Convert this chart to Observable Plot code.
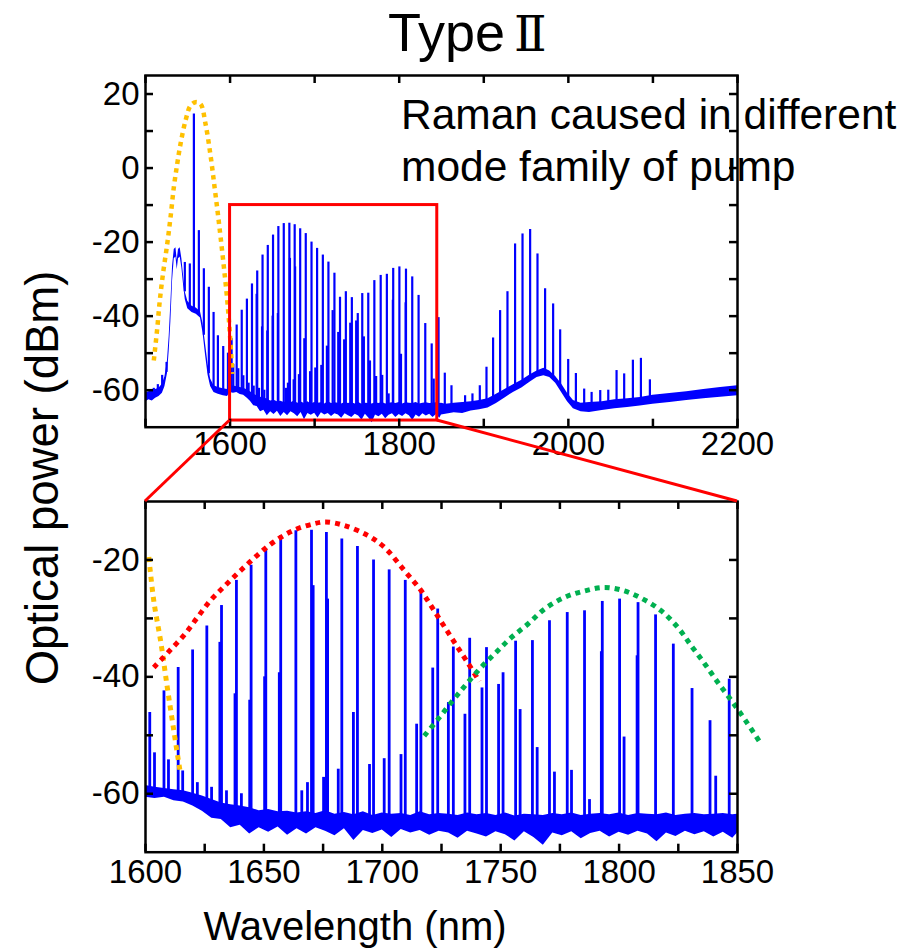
<!DOCTYPE html>
<html><head><meta charset="utf-8">
<script src="https://cdn.jsdelivr.net/npm/d3@7"></script>
<script src="https://cdn.jsdelivr.net/npm/@observablehq/plot@0.6"></script>
<style>
html,body{margin:0;padding:0;background:#fff;}
#wrap{position:relative;width:915px;height:950px;font-family:"Liberation Sans",Arial,sans-serif;background:#fff;}
#wrap svg{position:absolute;left:0;overflow:visible;}
</style></head><body><div id="wrap"></div>
<script>
// ---------------- DATA ----------------
// comb lines between 1600 and 1850 nm (shared by both panels): wavelength (nm), peak (dBm)
const combW = [1601.8,1603.8,1607.8,1609.7,1613.8,1615.7,1619.9,1621.9,1625.9,1627.9,1631.4,1632.1,1634.2,1637.8,1638.4,1640.5,1644.0,1644.6,1650.3,1650.8,1656.5,1657.1,1663.5,1666.0,1668.4,1670.1,1670.8,1675.2,1676.4,1676.9,1681.4,1682.9,1687.8,1689.5,1694.6,1696.3,1700.8,1702.9,1707.9,1709.7,1714.5,1716.3,1721.3,1723.4,1727.9,1730.0,1734.9,1736.9,1742.1,1744.0,1749.1,1751.0,1756.3,1758.2,1763.4,1765.4,1770.6,1772.7,1778.1,1779.9,1785.4,1787.5,1792.5,1792.9,1800.2,1802.1,1807.6,1808.0,1815.4,1822.9,1830.8,1838.4,1840.8,1846.5];
const combPeak = [-46.1,-53.0,-42.4,-54.2,-38.4,-56.1,-35.4,-58.1,-31.3,-58.9,-34.1,-27.8,-59.5,-42.9,-23.5,-60.0,-44.0,-20.9,-40.0,-18.1,-39.3,-15.8,-15.0,-59.5,-58.1,-14.9,-24.4,-57.2,-15.3,-26.7,-55.8,-16.4,-46.1,-17.7,-55.0,-20.0,-54.0,-21.7,-53.3,-23.5,-48.1,-25.4,-38.5,-28.4,-44.4,-34.9,-46.4,-33.4,-41.9,-35.0,-41.3,-39.3,-33.9,-45.6,-33.8,-52.1,-30.4,-56.3,-29.0,-56.0,-28.7,-61.0,-35.7,-27.1,-26.7,-50.3,-36.4,-27.3,-29.4,-34.4,-42.0,-47.5,-57.0,-40.4];

// lines around the pump (top panel only)
const pumpW = [1509.8,1514.6,1519.7,1524.9,1546.5,1552.4,1557.2,1563.1,1569.0,1574.9,1580.5,1585.6,1591.9,1597.5];
const pumpPeak = [-59.5,-58.5,-56.0,-52.5,-25.5,-25.9,14.6,-16.9,-27.2,-32.2,-39.0,-45.3,-48.2,-50.0];

// lines beyond 1850 nm (top panel only)
const longW = [1853.9,1861.8,1877.9,1886.6,1895.3,1903.2,1911.0,1919.3,1928.0,1937.0,1945.8,1954.8,1963.5,1972.5,1982.0,1990.3,1999.8,2008.9,2018.7,2027.5,2037.7,2047.2,2057.0,2066.0,2076.3,2085.8,2096.4];
const longPeak = [-55.4,-58.8,-61.5,-61.0,-58.8,-53.8,-45.9,-38.5,-33.4,-20.5,-17.8,-16.6,-23.2,-32.6,-36.7,-43.7,-51.7,-55.5,-59.7,-60.6,-60.1,-60.0,-54.7,-55.6,-51.9,-51.4,-57.2];

// noise floor (band low / high), 1600-1850 nm
const floorW  = [1600,1604,1608,1612,1616,1620,1624,1628,1632,1636,1640,1644,1648,1652,1656,1660,1664,1668,1672,1676,1680,1684,1688,1692,1696,1700,1704,1708,1712,1716,1720,1724,1728,1732,1736,1740,1744,1748,1752,1756,1760,1764,1768,1772,1776,1780,1784,1788,1792,1796,1800,1804,1808,1812,1816,1820,1824,1828,1832,1836,1840,1844,1848,1850];
const floorLo = [-60.6,-60.8,-60.6,-61.2,-61.4,-62.1,-63.0,-64.2,-64.4,-65.8,-65.4,-66.9,-65.8,-66.6,-65.7,-67.1,-66.0,-66.9,-65.8,-66.4,-67.2,-66.0,-68.0,-66.3,-66.8,-66.2,-67.5,-66.1,-66.7,-66.3,-67.1,-66.4,-66.7,-67.6,-66.4,-66.9,-67.4,-66.5,-67.0,-68.1,-66.5,-67.5,-68.8,-66.7,-67.2,-66.5,-67.7,-66.8,-66.4,-67.4,-66.6,-67.1,-66.4,-66.9,-68.2,-66.7,-67.3,-66.4,-67.0,-66.5,-67.4,-66.6,-67.6,-66.7];
const floorHi = [-58.6,-58.9,-59.1,-59.3,-59.5,-59.9,-60.4,-61.0,-61.6,-61.9,-62.1,-62.4,-62.9,-62.7,-63.1,-63.0,-63.3,-63.1,-63.4,-62.9,-63.5,-63.2,-63.6,-63.1,-63.7,-63.3,-63.5,-63.4,-63.7,-63.1,-63.6,-63.4,-63.5,-63.7,-63.3,-63.6,-63.4,-63.7,-63.3,-63.8,-63.5,-63.6,-63.7,-63.4,-63.6,-63.3,-63.7,-63.5,-63.4,-63.6,-63.3,-63.7,-63.4,-63.5,-63.6,-63.3,-63.7,-63.5,-63.4,-63.6,-63.5,-63.4,-63.6,-63.5];

// pump region floor / ASE hump (top panel), 1500-1597 nm
const pumpFloorW  = [1500,1504,1508,1512,1516,1520,1523,1526,1528,1530,1532,1534,1536,1537.5,1539,1541,1543,1545,1547,1550,1555,1560,1565,1568,1571,1574,1577,1581,1586,1592,1597];
const pumpFloorLo = [-63.2,-62.6,-62.9,-62.2,-61.7,-60.8,-59.0,-55.5,-49.5,-41.5,-30.5,-24.5,-24.0,-27.5,-24.5,-24.0,-27.0,-31.5,-35.5,-38.0,-39.0,-39.5,-40.5,-44.5,-50.5,-56.0,-59.0,-60.6,-61.1,-61.5,-61.7];
const pumpFloorHi = [-60.7,-60.4,-60.2,-59.8,-59.5,-58.3,-56.4,-52.0,-45.5,-36.5,-26.5,-22.0,-21.5,-25.0,-22.0,-21.5,-24.5,-29.0,-33.5,-36.0,-37.3,-37.8,-38.8,-42.0,-47.5,-53.0,-57.0,-58.8,-59.3,-59.6,-59.8];

// long-wavelength floor (top panel), 1855-2200 nm
const longFloorW  = [1855,1865,1875,1885,1895,1905,1915,1925,1935,1945,1955,1963,1971,1978,1985,1992,1999,2006,2015,2025,2040,2055,2070,2085,2100,2120,2140,2160,2180,2200];
const longFloorLo = [-66.5,-66.1,-66.3,-65.6,-65.3,-64.8,-63.6,-62.1,-60.6,-59.4,-57.8,-56.6,-56.1,-56.6,-58.1,-60.6,-63.1,-65.0,-65.8,-66.0,-65.5,-65.0,-64.7,-64.3,-63.8,-63.3,-62.8,-62.3,-61.9,-61.5];
const longFloorHi = [-63.8,-63.5,-63.3,-63.1,-62.8,-62.3,-61.1,-59.8,-58.5,-57.3,-55.8,-54.8,-54.1,-54.8,-56.3,-58.3,-60.8,-62.8,-63.5,-63.3,-63.1,-62.6,-62.3,-62.0,-61.4,-60.9,-60.4,-59.8,-59.3,-58.8];

// dotted guide curves
const orangeTopW = [1509.8,1513.8,1516.9,1520.9,1525.7,1529.6,1533.5,1537.5,1541.4,1547.3,1553.3,1559.2,1565.1,1571.0,1576.9,1581.7,1585.6,1588.8,1592.7,1596.7,1599.8,1602.6];
const orangeTopV = [-52.0,-43.5,-35.8,-28.2,-20.5,-13.3,-5.2,1.1,6.5,12.8,16.9,17.8,17.3,11.9,3.4,-5.2,-12.4,-18.7,-26.8,-35.8,-44.8,-55.6];
const orangeBotW = [1601.4,1603.5,1606.6,1609.2,1612.0,1614.8];
const orangeBotV = [-19.5,-27.0,-34.4,-41.8,-49.3,-56.7];
const redW = [1603.5,1609.8,1616.2,1621.8,1627.5,1633.8,1640.2,1647.2,1654.2,1662.7,1671.2,1676.1,1683.9,1693.8,1700.8,1709.3,1716.3,1721.3,1726.2,1731.1,1736.1,1741.0];
const redV = [-38.4,-35.7,-32.9,-29.9,-26.9,-24.3,-21.8,-19.2,-16.9,-14.9,-13.8,-13.5,-14.1,-15.8,-17.8,-21.8,-25.2,-28.3,-31.4,-34.5,-37.6,-40.8];
const greenW = [1717.7,1723.4,1729.7,1735.4,1741.7,1748.1,1754.4,1761.4,1768.5,1777.0,1785.4,1793.9,1802.3,1810.1,1817.8,1824.9,1830.5,1836.2,1841.8,1847.5,1853.1,1860.0];
const greenV = [-50.1,-47.3,-44.1,-41.3,-38.4,-35.8,-33.3,-31.0,-28.4,-26.4,-25.3,-24.7,-25.3,-26.7,-28.7,-31.6,-34.7,-37.8,-41.0,-44.1,-47.3,-51.5];

// zoom box (top panel)
const boxW = [1600, 1845];
const boxV = [-68.2, -10];

// axis ticks
const topXTicks = [1500,1600,1700,1800,1900,2000,2100,2200];
const topXLabels = [1600,1800,2000,2200];
const topYTicks = [-60,-50,-40,-30,-20,-10,0,10,20];
const topYLabels = [-60,-40,-20,0,20];
const botXTicks = [1600,1625,1650,1675,1700,1725,1750,1775,1800,1825,1850];
const botXLabels = [1600,1650,1700,1750,1800,1850];
const botYTicks = [-60,-50,-40,-30,-20];
const botYLabels = [-60,-40,-20];

// texts
const titleMain = "Type";
const titleNumeral = "Ⅱ";
const noteLines = ["Raman caused in different", "mode family of pump"];
const xTitle = "Wavelength (nm)";
const yTitle = "Optical power (dBm)";

// ---------------- BUILD ----------------
const BLUE = "#0000ff", ORANGE = "#ffc000", RED = "#ff0000", GREEN = "#00b050";
const FONT = "Liberation Sans, Arial, sans-serif";
const W = 915, ML = 145, MR = 178;
const zip3 = (w, a, b) => w.map((x, i) => ({w: x, lo: a[i], hi: b[i]}));
const zip2 = (w, v) => w.map((x, i) => ({w: x, v: v[i]}));

const floorBot = zip3(floorW, floorLo, floorHi);
const floorTop = [...zip3(pumpFloorW, pumpFloorLo, pumpFloorHi), ...floorBot, ...zip3(longFloorW, longFloorLo, longFloorHi)];
const midOf = (fl) => d3.scaleLinear(fl.map(d => d.w), fl.map(d => (d.lo + d.hi) / 2)).clamp(true);
const midTop = midOf(floorTop), midBot = midOf(floorBot);

const combTop = combW.map((w, i) => ({w, peak: combPeak[i], base: midTop(w)}));
const combBot = combW.map((w, i) => ({w, peak: combPeak[i], base: midBot(w)}));
const linesTop = [
  ...pumpW.map((w, i) => ({w, peak: pumpPeak[i], base: midTop(w)})),
  ...combTop,
  ...longW.map((w, i) => ({w, peak: longPeak[i], base: midTop(w)}))
];
const box = [{x1: boxW[0], x2: boxW[1], y1: boxV[0], y2: boxV[1]}];
const fmt = d => String(d);
const TICK = 8; // px

// inward tick marks on all four sides, drawn as rules through the plot scales
function axes(xt, xl, yt, yl, xDom, yDom, frameW, frameH, xpad) {
  const kx = TICK * (xDom[1] - xDom[0]) / frameW;  // tick length in x units
  const ky = TICK * (yDom[1] - yDom[0]) / frameH;  // tick length in y units
  const tk = {stroke: "black", strokeWidth: 2.5, strokeLinecap: "butt"};
  return [
    Plot.ruleX(xt, {x: d => d, y1: yDom[0], y2: yDom[0] + ky, ...tk}),
    Plot.ruleX(xt, {x: d => d, y1: yDom[1], y2: yDom[1] - ky, ...tk}),
    Plot.ruleY(yt, {y: d => d, x1: xDom[0], x2: xDom[0] + kx, ...tk}),
    Plot.ruleY(yt, {y: d => d, x1: xDom[1], x2: xDom[1] - kx, ...tk}),
    Plot.axisX({ticks: xl, anchor: "bottom", tickSize: 0, tickPadding: xpad, tickFormat: fmt, label: null, fontSize: 33, fill: "black"}),
    Plot.axisY({ticks: yl, anchor: "left", tickSize: 0, tickPadding: 6, tickFormat: fmt, label: null, fontSize: 33, fill: "black"})
  ];
}

const dotted = (stroke, w) => ({x: "w", y: "v", stroke, strokeWidth: w, strokeDasharray: `${w},${w}`, strokeLinecap: "butt", strokeLinejoin: "miter", curve: "catmull-rom"});

const TOP_H = 470, TOP_MT = 75, TOP_MB = 43.3;
const topXDom = [1500, 2200], topYDom = [-70, 25];
const topPlot = Plot.plot({
  width: W, height: TOP_H,
  marginLeft: ML, marginRight: MR, marginTop: TOP_MT, marginBottom: TOP_MB,
  x: {domain: topXDom, label: null},
  y: {domain: topYDom, label: null},
  style: {fontFamily: FONT, background: "transparent", overflow: "visible"},
  marks: [
    Plot.areaY(floorTop, {x: "w", y1: "lo", y2: "hi", fill: BLUE}),
    Plot.ruleX(linesTop, {x: "w", y1: "base", y2: "peak", stroke: BLUE, strokeWidth: 2.2}),
    Plot.line(zip2(orangeTopW, orangeTopV), dotted(ORANGE, 4.5)),
    Plot.rect(box, {x1: "x1", x2: "x2", y1: "y1", y2: "y2", stroke: RED, fill: "none", strokeWidth: 3}),
    Plot.frame({stroke: "black", strokeWidth: 2.5}),
    ...axes(topXTicks, topXLabels, topYTicks, topYLabels, topXDom, topYDom, W - ML - MR, TOP_H - TOP_MT - TOP_MB, 4)
  ]
});

const BOT_H = 480, BOT_MT = 31, BOT_MB = 98.3;
const botXDom = [1600, 1850], botYDom = [-70, -10];
const botPlot = Plot.plot({
  width: W, height: BOT_H,
  marginLeft: ML, marginRight: MR, marginTop: BOT_MT, marginBottom: BOT_MB,
  x: {domain: botXDom, label: null},
  y: {domain: botYDom, label: null},
  style: {fontFamily: FONT, background: "transparent", overflow: "visible"},
  marks: [
    Plot.areaY(floorBot, {x: "w", y1: "lo", y2: "hi", fill: BLUE}),
    Plot.ruleX(combBot, {x: "w", y1: "base", y2: "peak", stroke: BLUE, strokeWidth: 2.8}),
    Plot.line(zip2(orangeBotW, orangeBotV), dotted(ORANGE, 5)),
    Plot.line(zip2(redW, redV), dotted(RED, 5)),
    Plot.line(zip2(greenW, greenV), dotted(GREEN, 5)),
    Plot.frame({stroke: "black", strokeWidth: 2.5}),
    ...axes(botXTicks, botXLabels, botYTicks, botYLabels, botXDom, botYDom, W - ML - MR, BOT_H - BOT_MT - BOT_MB, 7)
  ]
});

const wrap = document.getElementById("wrap");
topPlot.style.top = "0px";
botPlot.style.top = TOP_H + "px";
wrap.appendChild(topPlot);
wrap.appendChild(botPlot);

// overlay: connectors and texts
const ov = d3.select(wrap).append("svg")
  .attr("width", W).attr("height", 950)
  .style("top", "0px").style("pointer-events", "none")
  .attr("font-family", FONT);

const tx = topPlot.scale("x"), ty = topPlot.scale("y");
const bx = botPlot.scale("x"), by = botPlot.scale("y");
const connectors = [
  [[tx.apply(boxW[0]), ty.apply(boxV[0])], [bx.apply(botXDom[0]), by.apply(botYDom[1]) + TOP_H]],
  [[tx.apply(boxW[1]), ty.apply(boxV[0])], [bx.apply(botXDom[1]), by.apply(botYDom[1]) + TOP_H]]
];
ov.selectAll("line.conn").data(connectors).join("line")
  .attr("x1", d => d[0][0]).attr("y1", d => d[0][1])
  .attr("x2", d => d[1][0]).attr("y2", d => d[1][1])
  .attr("stroke", RED).attr("stroke-width", 3);

const title = ov.append("text").attr("x", 388).attr("y", 51).attr("font-size", 54);
title.append("tspan").text(titleMain);
title.append("tspan").attr("x", 514).attr("font-family", "DejaVu Serif, serif").attr("font-size", 48).text(titleNumeral);

const note = ov.append("text").attr("x", 401).attr("y", 129).attr("font-size", 42.5);
note.selectAll("tspan").data(noteLines).join("tspan")
  .attr("x", 401).attr("dy", (d, i) => i ? 52 : 0).text(d => d);

ov.append("text").attr("x", 355).attr("y", 940).attr("text-anchor", "middle")
  .attr("font-size", 40).text(xTitle);

ov.append("text").attr("transform", "translate(58,478) rotate(-90)").attr("text-anchor", "middle")
  .attr("font-size", 45.5).text(yTitle);
</script></body></html>
